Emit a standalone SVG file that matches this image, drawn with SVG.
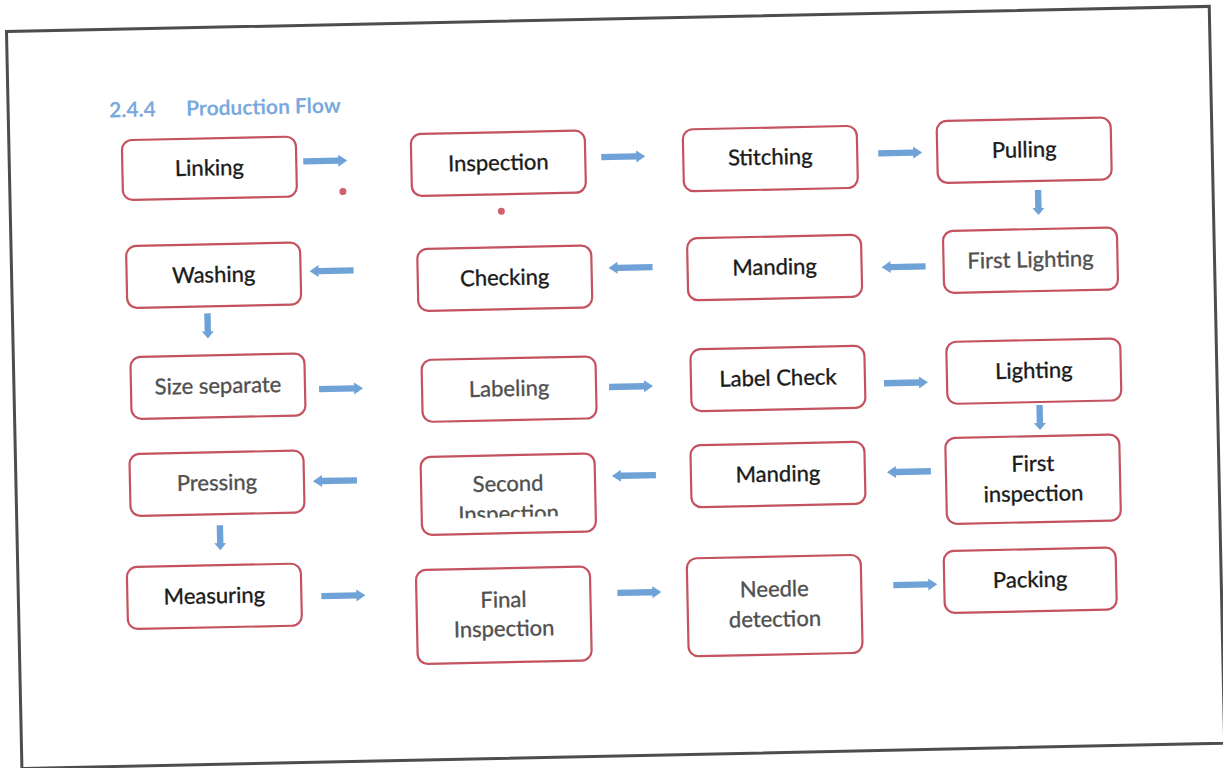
<svg xmlns="http://www.w3.org/2000/svg" width="1223" height="768" viewBox="0 0 1223 768">
<style>
.box{fill:#fff;stroke:#c4525f;stroke-width:2.2}
.t{font-family:Lato,"Open Sans","Liberation Sans",sans-serif;font-size:22px;text-anchor:middle;fill:#1a1a1a;stroke:#1a1a1a;stroke-width:0.35}
.g{fill:#505050;stroke:#505050}
.arr{fill:#6fa3d8}
.title{font-family:Lato,"Liberation Sans",sans-serif;font-weight:bold;font-size:21px;fill:#7aa9de}
.frame{fill:none;stroke:#4d4d4d;stroke-width:3}
.dot{fill:#d0606e}
</style>
<defs>
<path id="ah" d="M-22,-3.2 H13 V-6 L22,0 L13,6 V3.2 H-22 Z"/>
<path id="av" d="M-3.2,-12 V6 H-6 L0,13 L6,6 H3.2 V-12 Z"/>
<clipPath id="clipSec"><rect x="400" y="455" width="220" height="60"/></clipPath>
</defs>
<rect width="1223" height="768" fill="#fff"/>
<g transform="rotate(-1.2 611 384)">
<rect class="frame" x="14" y="19" width="1203" height="737"/>
<text class="title" x="115" y="107">2.4.4</text>
<text class="title" x="192" y="107">Production Flow</text>

<g id="n-linking"><rect class="box" x="127" y="130" width="174" height="60" rx="10"/><text class="t" x="214" y="167">Linking</text></g>
<g id="n-inspection"><rect class="box" x="416" y="130" width="174" height="62" rx="10"/><text class="t" x="503" y="168">Inspection</text></g>
<g id="n-stitching"><rect class="box" x="688" y="131" width="174" height="62" rx="10"/><text class="t" x="775" y="168">Stitching</text></g>
<g id="n-pulling"><rect class="box" x="942" y="128" width="174" height="62" rx="10"/><text class="t" x="1029" y="166">Pulling</text></g>

<g id="n-washing"><rect class="box" x="129" y="236" width="174" height="62" rx="10"/><text class="t" x="216" y="274">Washing</text></g>
<g id="n-checking"><rect class="box" x="420" y="245" width="174" height="62" rx="10"/><text class="t" x="507" y="283">Checking</text></g>
<g id="n-manding1"><rect class="box" x="690" y="240" width="174" height="62" rx="10"/><text class="t" x="777" y="278">Manding</text></g>
<g id="n-firstlighting"><rect class="box" x="946" y="238" width="174" height="62" rx="10"/><text class="t g" x="1033" y="276">First Lighting</text></g>

<g id="n-sizeseparate"><rect class="box" x="131" y="347" width="174" height="62" rx="10"/><text class="t g" x="218" y="385">Size separate</text></g>
<g id="n-labeling"><rect class="box" x="422" y="356" width="174" height="62" rx="10"/><text class="t g" x="509" y="394">Labeling</text></g>
<g id="n-labelcheck"><rect class="box" x="691" y="351" width="174" height="62" rx="10"/><text class="t" x="778" y="389">Label Check</text></g>
<g id="n-lighting"><rect class="box" x="947" y="349" width="174" height="62" rx="10"/><text class="t" x="1034" y="387">Lighting</text></g>

<g id="n-pressing"><rect class="box" x="128" y="444" width="174" height="62" rx="10"/><text class="t g" x="215" y="482">Pressing</text></g>
<g id="n-secondinspection"><rect class="box" x="419" y="453" width="174" height="78" rx="10"/><text class="t g" x="506" y="489">Second</text><text class="t g" x="506" y="519" clip-path="url(#clipSec)">Inspection</text></g>
<g id="n-manding2"><rect class="box" x="689" y="447" width="174" height="62" rx="10"/><text class="t" x="776" y="485">Manding</text></g>
<g id="n-firstinspection"><rect class="box" x="944" y="445" width="174" height="86" rx="10"/><text class="t" x="1031" y="480">First</text><text class="t" x="1031" y="510">inspection</text></g>

<g id="n-measuring"><rect class="box" x="123" y="557" width="174" height="62" rx="10"/><text class="t" x="210" y="595">Measuring</text></g>
<g id="n-finalinspection"><rect class="box" x="412" y="566" width="174" height="94" rx="10"/><text class="t g" x="499" y="605">Final</text><text class="t g" x="499" y="634">Inspection</text></g>
<g id="n-needledetection"><rect class="box" x="683" y="560" width="174" height="98" rx="10"/><text class="t g" x="770" y="600">Needle</text><text class="t g" x="770" y="630">detection</text></g>
<g id="n-packing"><rect class="box" x="940" y="558" width="172" height="62" rx="10"/><text class="t" x="1026" y="596">Packing</text></g>

<g id="connectors" class="arr">
<use href="#ah" transform="translate(330 155)"/>
<use href="#ah" transform="translate(628 157)"/>
<use href="#ah" transform="translate(905 159)"/>
<use href="#av" transform="translate(1042 211)"/>
<use href="#ah" transform="translate(906 273) rotate(180)"/>
<use href="#ah" transform="translate(633 268) rotate(180)"/>
<use href="#ah" transform="translate(334 265) rotate(180)"/>
<use href="#av" transform="translate(209 317)"/>
<use href="#ah" transform="translate(341 383)"/>
<use href="#ah" transform="translate(631 387)"/>
<use href="#ah" transform="translate(906 389)"/>
<use href="#av" transform="translate(1039 426)"/>
<use href="#ah" transform="translate(907 478) rotate(180)"/>
<use href="#ah" transform="translate(632 476) rotate(180)"/>
<use href="#ah" transform="translate(333 475) rotate(180)"/>
<use href="#av" transform="translate(217 529)"/>
<use href="#ah" transform="translate(339 590)"/>
<use href="#ah" transform="translate(635 593)"/>
<use href="#ah" transform="translate(911 591)"/>
</g>
<circle class="dot" cx="347" cy="186" r="3.5"/>
<circle class="dot" cx="505" cy="209" r="3.5"/>
</g>
</svg>
